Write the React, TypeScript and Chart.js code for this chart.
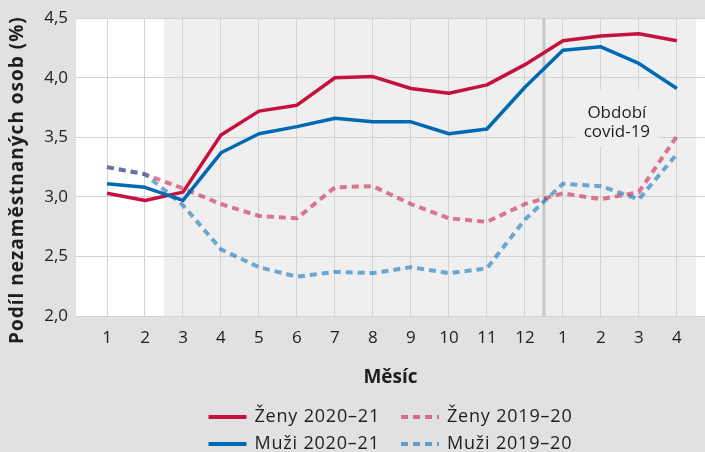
import React, { useEffect, useRef } from 'react';
import { Chart, registerables } from 'chart.js';
Chart.register(...registerables);

const monthLabels = ['1', '2', '3', '4', '5', '6', '7', '8', '9', '10', '11', '12', '1', '2', '3', '4'];
const zeny2021 = [3.03, 2.97, 3.04, 3.52, 3.72, 3.77, 4.0, 4.01, 3.91, 3.87, 3.94, 4.11, 4.31, 4.35, 4.37, 4.31];
const muzi2021 = [3.11, 3.08, 2.97, 3.37, 3.53, 3.59, 3.66, 3.63, 3.63, 3.53, 3.57, 3.92, 4.23, 4.26, 4.12, 3.91];
const zeny1920 = [3.25, 3.19, 3.07, 2.94, 2.84, 2.82, 3.08, 3.09, 2.94, 2.82, 2.79, 2.94, 3.03, 2.98, 3.04, 3.51];
const muzi1920 = [3.25, 3.19, 2.93, 2.56, 2.41, 2.33, 2.37, 2.36, 2.41, 2.36, 2.4, 2.81, 3.11, 3.09, 2.98, 3.36];
const yMin = 2.0;
const yMax = 4.5;
const yStep = 0.5;
const covidStart = 2.5;
const covidEnd = 16.5;
const dividerAt = 12.5;
const covidLabel = ['Období', 'covid-19'];
const covidLabelAt = { x: 14.42, y: 3.625 };
const yTitle = 'Podíl nezaměstnaných osob (%)';
const xTitle = 'Měsíc';

const RED = '#c5113f';
const BLUE = '#0069b4';
const PINK = 'rgba(197,17,63,0.55)';
const LBLUE = 'rgba(0,105,180,0.55)';
const FONT = "'Open Sans', sans-serif";
const TEXT = '#1e1e1e';

const legendItems = [
  { label: 'Ženy 2020–21', color: RED, dash: [] as number[] },
  { label: 'Ženy 2019–20', color: PINK, dash: [7, 5] },
  { label: 'Muži 2020–21', color: BLUE, dash: [] as number[] },
  { label: 'Muži 2019–20', color: LBLUE, dash: [7, 5] },
];

const toXY = (arr: number[]) => arr.map((v, i) => ({ x: i + 1, y: v }));

const decorPlugin = {
  id: 'decor',
  beforeDraw(chart: any) {
    const { ctx, chartArea, width, height } = chart;
    const xs = chart.scales.x;
    ctx.save();
    ctx.fillStyle = '#e1e1e1';
    ctx.fillRect(0, 0, width, height);
    ctx.fillStyle = '#ffffff';
    ctx.fillRect(chartArea.left, chartArea.top, chartArea.right - chartArea.left, chartArea.bottom - chartArea.top);
    const x0 = xs.getPixelForValue(covidStart);
    const x1 = xs.getPixelForValue(covidEnd);
    ctx.fillStyle = '#efefef';
    ctx.fillRect(x0, chartArea.top, x1 - x0, chartArea.bottom - chartArea.top);
    ctx.restore();
  },
  beforeDatasetsDraw(chart: any) {
    const { ctx, chartArea } = chart;
    const xs = chart.scales.x;
    const ys = chart.scales.y;
    ctx.save();
    const xd = xs.getPixelForValue(dividerAt);
    ctx.strokeStyle = '#c8c8c8';
    ctx.lineWidth = 3;
    ctx.beginPath();
    ctx.moveTo(xd, chartArea.top);
    ctx.lineTo(xd, chartArea.bottom);
    ctx.stroke();
    const cx = xs.getPixelForValue(covidLabelAt.x);
    const cy = ys.getPixelForValue(covidLabelAt.y);
    ctx.fillStyle = '#efefef';
    ctx.fillRect(cx - 42, cy - 33, 84, 57);
    ctx.fillStyle = TEXT;
    ctx.font = `17px ${FONT}`;
    ctx.textAlign = 'center';
    ctx.textBaseline = 'middle';
    ctx.fillText(covidLabel[0], cx, cy - 9);
    ctx.fillText(covidLabel[1], cx, cy + 10);
    ctx.restore();
  },
  afterDraw(chart: any) {
    const { ctx, chartArea } = chart;
    ctx.save();
    // y title
    ctx.translate(18, (chartArea.top + chartArea.bottom) / 2 + 13);
    ctx.rotate(-Math.PI / 2);
    ctx.font = `bold 19px ${FONT}`;
    (ctx as any).letterSpacing = '1px';
    ctx.fillStyle = TEXT;
    ctx.textAlign = 'center';
    ctx.textBaseline = 'middle';
    ctx.fillText(yTitle, 0, 0);
    ctx.restore();

    // legend (2 x 2)
    ctx.save();
    ctx.font = `18px ${FONT}`;
    (ctx as any).letterSpacing = '0.8px';
    ctx.textBaseline = 'middle';
    ctx.textAlign = 'left';
    const lineW = 38;
    const gap = 8;
    const colGap = 21;
    const w = legendItems.map((it) => ctx.measureText(it.label).width);
    const col1 = Math.max(w[0], w[2]);
    const col2 = Math.max(w[1], w[3]);
    const total = lineW + gap + col1 + colGap + lineW + gap + col2;
    const startX = (chartArea.left + chartArea.right) / 2 - total / 2;
    const xAxisBottom = chart.scales.x.bottom;
    const rows = [xAxisBottom + 21, xAxisBottom + 48];
    legendItems.forEach((it, i) => {
      const col = i % 2;
      const row = Math.floor(i / 2);
      const x = col === 0 ? startX : startX + lineW + gap + col1 + colGap;
      const y = rows[row];
      ctx.strokeStyle = it.color;
      ctx.lineWidth = 4;
      ctx.setLineDash(it.dash);
      ctx.beginPath();
      ctx.moveTo(x, y);
      ctx.lineTo(x + lineW, y);
      ctx.stroke();
      ctx.setLineDash([]);
      ctx.fillStyle = TEXT;
      ctx.fillText(it.label, x + lineW + gap, y);
    });
    ctx.restore();
  },
};

export default function App() {
  const ref = useRef<HTMLCanvasElement | null>(null);
  useEffect(() => {
    if (!ref.current) return;
    const chart = new Chart(ref.current, {
      type: 'line',
      data: {
        datasets: [
          {
            label: 'Muži 2020–21',
            data: toXY(muzi2021),
            borderColor: BLUE,
            borderWidth: 3.5,
            pointRadius: 0,
            tension: 0,
            borderJoinStyle: 'round',
          },
          {
            label: 'Ženy 2020–21',
            data: toXY(zeny2021),
            borderColor: RED,
            borderWidth: 3.5,
            pointRadius: 0,
            tension: 0,
            borderJoinStyle: 'round',
          },
          {
            label: 'Muži 2019–20',
            data: toXY(muzi1920),
            borderColor: LBLUE,
            borderWidth: 4,
            borderDash: [7, 5],
            pointRadius: 0,
            tension: 0,
          },
          {
            label: 'Ženy 2019–20',
            data: toXY(zeny1920),
            borderColor: PINK,
            borderWidth: 4,
            borderDash: [7, 5],
            pointRadius: 0,
            tension: 0,
          },
        ],
      },
      options: {
        animation: false,
        responsive: false,
        devicePixelRatio: 1,
        layout: { padding: { top: 16, right: 0, bottom: 56, left: 0 } },
        plugins: {
          legend: { display: false },
          tooltip: { enabled: false },
        },
        scales: {
          x: {
            type: 'linear',
            min: 0.184,
            max: 16.74,
            afterBuildTicks: (axis: any) => {
              axis.ticks = monthLabels.map((_, i) => ({ value: i + 1 }));
            },
            afterFit: (axis: any) => {
              axis.height = 80;
            },
            ticks: {
              callback: (v: any) => monthLabels[Math.round(Number(v)) - 1],
              color: TEXT,
              font: { family: FONT, size: 17 },
              padding: 12,
              maxRotation: 0,
              autoSkip: false,
            },
            grid: { color: '#d2d2d2', lineWidth: 1, drawTicks: false },
            border: { display: false },
            title: {
              display: true,
              text: xTitle,
              color: TEXT,
              font: { family: FONT, size: 19, weight: 'bold' },
              padding: { top: 0, bottom: 7 },
            },
          },
          y: {
            min: yMin,
            max: yMax,
            afterFit: (axis: any) => {
              axis.width = 76;
            },
            ticks: {
              stepSize: yStep,
              callback: (v: any) => Number(v).toFixed(1).replace('.', ','),
              color: TEXT,
              font: { family: FONT, size: 17 },
              padding: 8,
            },
            grid: { color: '#d2d2d2', lineWidth: 1, drawTicks: false },
            border: { display: false },
          },
        },
      },
      plugins: [decorPlugin],
    } as any);
    return () => chart.destroy();
  }, []);
  return (
    <div style={{ position: 'absolute', left: 0, top: 0, width: 705, height: 452 }}>
      <canvas ref={ref} width={705} height={452} style={{ display: 'block' }} />
    </div>
  );
}
